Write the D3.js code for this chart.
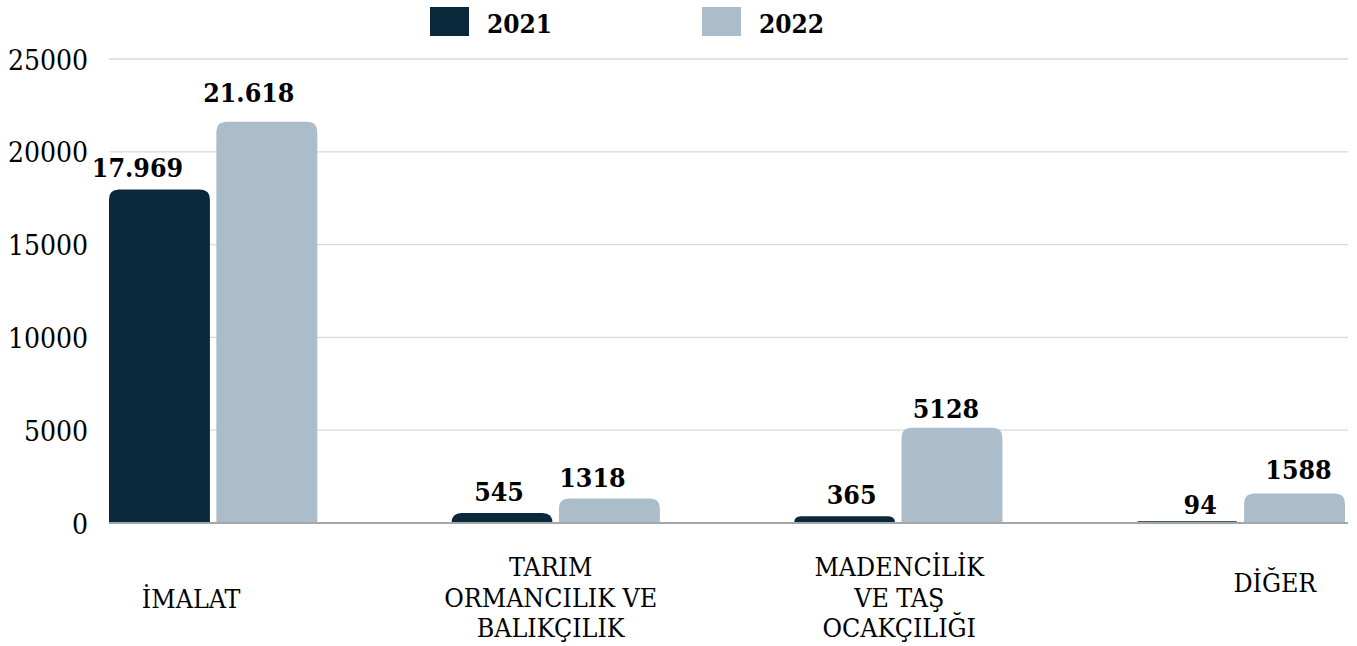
<!DOCTYPE html>
<html>
<head>
<meta charset="utf-8">
<script src="https://cdn.jsdelivr.net/npm/d3@7"></script>
<style>
  html, body { margin: 0; padding: 0; background: #fff; }
  svg { display: block; }
  text { font-family: "DejaVu Serif Condensed", "DejaVu Serif", serif; font-stretch: condensed; fill: #000; }
  .tick-label { font-size: 28px; }
  .cat-label { font-size: 26.5px; }
  .val-label { font-size: 26.5px; font-weight: bold; }
  .legend-label { font-size: 26px; font-weight: bold; }
</style>
</head>
<body>
<div id="chart"></div>
<script>
const width = 1357;
const height = 646;

// données
const categories = ["İMALAT", "TARIM ORMANCILIK VE BALIKÇILIK", "MADENCİLİK VE TAŞ OCAKÇILIĞI", "DİĞER"];
const categoryLines = [["İMALAT"], ["TARIM", "ORMANCILIK VE", "BALIKÇILIK"], ["MADENCİLİK", "VE TAŞ", "OCAKÇILIĞI"], ["DİĞER"]];
const seriesNames = ["2021", "2022"];
const values2021 = [17969, 545, 365, 94];
const values2022 = [21618, 1318, 5128, 1588];
const yTicks = [0, 5000, 10000, 15000, 20000, 25000];

const colors = ["#0a283c", "#abbdcb"];

// mise en page
const margin = { left: 109, top: 59, bottom: 123 };
const gridRight = 1348;
const barsRight = 1345;
const baseY = height - margin.bottom;
// décalages des libellés de catégorie (comme dans l'original)
const catNudgeX = [-22, -5, 1, 34];
const catFirstBaseline = [608, 576, 576, 592];
// décalages des étiquettes de valeur, par série puis par catégorie
const valNudgeX = [[-22, -3, 7, 13], [-18, -17, -6, 4]];
const valNudgeY = [[0, 0, 0, 5], [-8, 0, 2, -3]];

const svg = d3.select("#chart")
    .append("svg")
    .attr("width", width)
    .attr("height", height);

const x0 = d3.scaleBand()
    .domain(categories)
    .range([margin.left, barsRight])
    .paddingInner(0.392)
    .paddingOuter(0);

const x1 = d3.scaleBand()
    .domain(seriesNames)
    .range([0, x0.bandwidth()])
    .paddingInner(0.06);

const y = d3.scaleLinear()
    .domain([0, 25000])
    .range([baseY, margin.top]);

// grille
svg.append("g")
    .selectAll("line")
    .data(yTicks.filter(t => t > 0))
    .join("line")
    .attr("x1", margin.left)
    .attr("x2", gridRight)
    .attr("y1", d => y(d))
    .attr("y2", d => y(d))
    .attr("stroke", "#d9d9d9")
    .attr("stroke-width", 1.3);

// axe Y
const yAxis = svg.append("g")
    .attr("transform", `translate(${margin.left},0)`)
    .call(d3.axisLeft(y).tickValues(yTicks).tickSize(0).tickPadding(21).tickFormat(d3.format("d")));
yAxis.select(".domain").remove();
yAxis.selectAll("text")
    .attr("class", "tick-label")
    .attr("font-family", null)
    .attr("font-size", null)
    .attr("dy", "0.36em");

// barres à coins arrondis en haut
function topRounded(x, yTop, w, h, r) {
    r = Math.min(r, h, w / 2);
    return `M${x},${yTop + h}V${yTop + r}Q${x},${yTop} ${x + r},${yTop}H${x + w - r}Q${x + w},${yTop} ${x + w},${yTop + r}V${yTop + h}Z`;
}

const seriesValues = [values2021, values2022];
const rows = [];
categories.forEach((c, i) => {
    seriesNames.forEach((s, j) => rows.push({ cat: c, ci: i, series: s, si: j, value: seriesValues[j][i] }));
});

svg.append("g")
    .selectAll("path")
    .data(rows)
    .join("path")
    .attr("fill", d => colors[d.si])
    .attr("d", d => {
        const bx = x0(d.cat) + x1(d.series);
        return topRounded(bx, y(d.value), x1.bandwidth(), baseY - y(d.value), 10);
    });

// ligne de base
svg.append("line")
    .attr("x1", margin.left)
    .attr("x2", gridRight)
    .attr("y1", baseY)
    .attr("y2", baseY)
    .attr("stroke", "#a6a6a6")
    .attr("stroke-width", 2);

// étiquettes de valeur
const fmtVal = v => v >= 10000 ? d3.format(",")(v).replace(/,/g, ".") : String(v);
svg.append("g")
    .selectAll("text")
    .data(rows)
    .join("text")
    .attr("class", "val-label")
    .attr("text-anchor", "middle")
    .attr("x", d => x0(d.cat) + x1(d.series) + x1.bandwidth() / 2 + valNudgeX[d.si][d.ci])
    .attr("y", d => y(d.value) - 12 + valNudgeY[d.si][d.ci])
    .text(d => fmtVal(d.value));

// libellés de catégorie
categories.forEach((c, i) => {
    const cx = x0(c) + x0.bandwidth() / 2 + catNudgeX[i];
    const t = svg.append("text")
        .attr("class", "cat-label")
        .attr("text-anchor", "middle")
        .attr("x", cx)
        .attr("y", catFirstBaseline[i]);
    categoryLines[i].forEach((line, k) => {
        t.append("tspan")
            .attr("x", cx)
            .attr("dy", k === 0 ? 0 : 30.5)
            .text(line);
    });
});

// légende
const legendX = [430, 702];
seriesNames.forEach((s, j) => {
    const g = svg.append("g").attr("transform", `translate(${legendX[j]},7)`);
    g.append("rect").attr("width", 39).attr("height", 29).attr("fill", colors[j]);
    g.append("text").attr("class", "legend-label").attr("x", 57).attr("y", 26).text(s);
});
</script>
</body>
</html>
